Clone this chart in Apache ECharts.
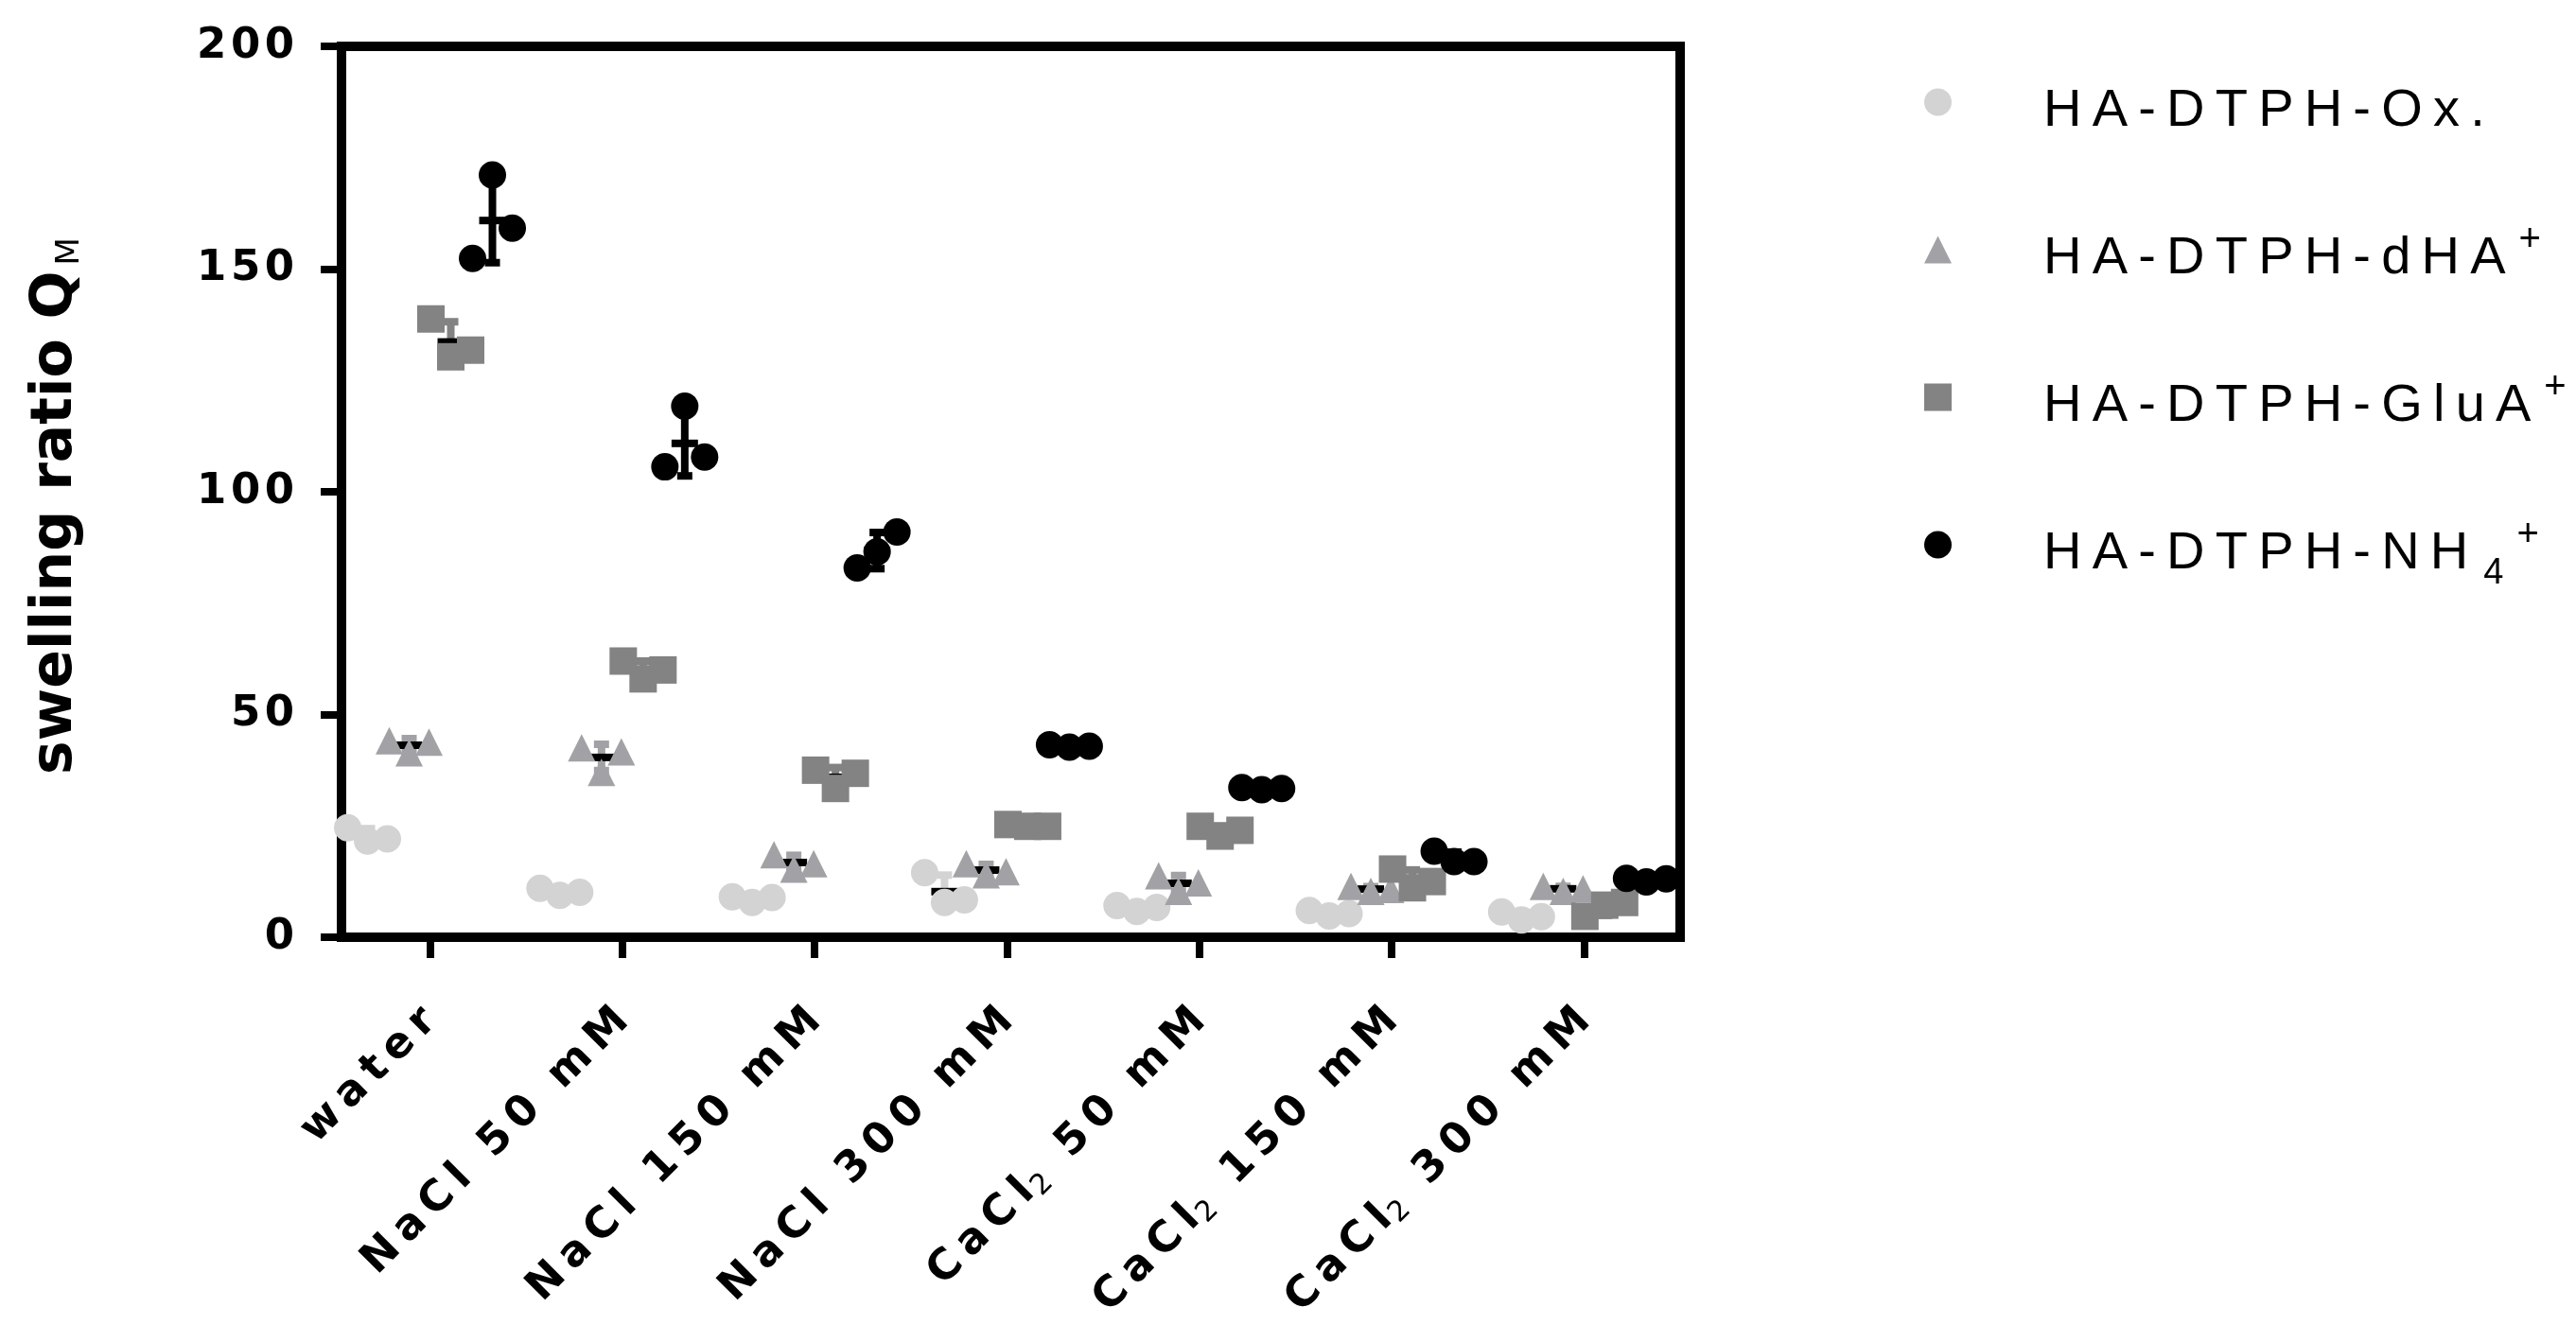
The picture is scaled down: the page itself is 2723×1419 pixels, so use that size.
<!DOCTYPE html>
<html>
<head>
<meta charset="utf-8">
<script src="https://cdn.jsdelivr.net/npm/echarts@6/dist/echarts.min.js"></script>
<style>
html,body{margin:0;padding:0;background:#fff;}
#chart{width:2723px;height:1419px;}
</style>
</head>
<body>
<div id="chart"></div>
<script>
// categories on the x axis
var categories = ['water', 'NaCl 50 mM', 'NaCl 150 mM', 'NaCl 300 mM', 'CaCl2 50 mM', 'CaCl2 150 mM', 'CaCl2 300 mM'];
var seriesNames = ['HA-DTPH-Ox.', 'HA-DTPH-dHA+', 'HA-DTPH-GluA+', 'HA-DTPH-NH4+'];
var yTicks = [0, 50, 100, 150, 200];

// three replicates per condition (left, middle, right)
var ox   = [[24.6, 21.6, 22.1], [11.0, 9.4, 10.1], [9.1, 7.8, 8.9], [14.5, 7.8, 8.4], [7.1, 5.8, 6.7], [6.0, 4.8, 5.3], [5.7, 3.9, 4.6]];
var dha  = [[44.1, 41.4, 43.8], [42.5, 37.0, 41.6], [18.5, 15.3, 16.5], [16.5, 14.0, 14.7], [13.8, 10.3, 12.2], [11.4, 10.3, 10.7], [11.4, 10.3, 10.9]];
var glua = [[138.8, 130.3, 131.8], [62.0, 58.0, 60.0], [37.5, 33.4, 36.8], [25.3, 24.9, 24.9], [24.9, 22.7, 24.0], [15.3, 11.1, 12.5], [4.7, 7.2, 7.8]];
var nh4  = [[152.4, 171.1, 159.2], [105.6, 119.2, 107.8], [82.9, 86.5, 91.0], [43.2, 42.7, 42.9], [33.6, 33.1, 33.4], [19.3, 17.0, 17.0], [13.2, 12.4, 13.1]];

var allSeries = [ox, dha, glua, nh4];
var colors = ['#d3d3d3', '#a2a2a6', '#838383', '#000000'];
var symbols = ['circle', 'triangle', 'rect', 'circle'];
var seriesOff = [-66, -22, 22, 66];   // px, dodge of each series inside a group
var repOff = [-21, 0, 21];            // px, spread of the replicates
var FONT = 'DejaVu Sans';
var LFONT = 'Liberation Sans';

function spaced(s, sep, wordSep) {
	return s.split(' ').map(function(w) { return w.split('').join(sep); }).join(wordSep);
}

function meanSd(arr) {
	var m = arr.reduce(function(a, b) { return a + b; }, 0) / arr.length;
	var v = arr.reduce(function(a, b) { return a + (b - m) * (b - m); }, 0) / (arr.length - 1);
	return [m, Math.sqrt(v)];
}

// error bar (series colour) + mean line (black), drawn under the points
function errRender(off, color) {
	return function(params, api) {
		var i = api.value(0), m = api.value(1), sd = api.value(2);
		var c = api.coord([i, m]);
		var top = api.coord([i, m + sd])[1];
		var bot = api.coord([i, m - sd])[1];
		var x = c[0] + off;
		var lw = 8;
		return {
			type: 'group',
			children: [
				{type: 'line', shape: {x1: x, y1: top, x2: x, y2: bot}, style: {stroke: color, lineWidth: lw}},
				{type: 'line', shape: {x1: x - 8, y1: top, x2: x + 8, y2: top}, style: {stroke: color, lineWidth: lw}},
				{type: 'line', shape: {x1: x - 8, y1: bot, x2: x + 8, y2: bot}, style: {stroke: color, lineWidth: lw}},
				{type: 'line', shape: {x1: x - 14, y1: c[1], x2: x + 14, y2: c[1]}, style: {stroke: '#000', lineWidth: lw}}
			]
		};
	};
}

var series = [];
allSeries.forEach(function(vals, s) {
	series.push({
		name: 'sd' + s,
		type: 'custom',
		z: 1,
		renderItem: errRender(seriesOff[s], colors[s]),
		encode: {x: 0, y: 1},
		data: vals.map(function(g, i) { var ms = meanSd(g); return [i, ms[0], ms[1]]; })
	});
});
allSeries.forEach(function(vals, s) {
	var data = [];
	vals.forEach(function(g, i) {
		g.forEach(function(v, r) {
			data.push({value: [i, v], symbolOffset: [seriesOff[s] + repOff[r], 0]});
		});
	});
	series.push({
		name: seriesNames[s],
		type: 'scatter',
		z: 3,
		symbol: symbols[s],
		symbolSize: 29,
		itemStyle: {color: colors[s], opacity: 1},
		emphasis: {disabled: true},
		data: data
	});
});

var legendRich = {
	t: {fontFamily: LFONT, fontSize: 56, color: '#000', lineHeight: 80},
	sup: {fontFamily: LFONT, fontSize: 40, color: '#000', lineHeight: 20, verticalAlign: 'top', padding: [0, 0, 0, 14]},
	sub: {fontFamily: LFONT, fontSize: 38, color: '#000', lineHeight: 20, verticalAlign: 'bottom', padding: [0, 0, 0, 16]}
};

function legendLabel(name) {
	var ts = '\u2009';
	if (name === 'HA-DTPH-Ox.') return '{t|' + spaced(name, ts, ' ') + '}{sup| }';
	if (name === 'HA-DTPH-NH4+') return '{t|' + spaced('HA-DTPH-NH', ts, ' ') + '}{sub|4}{sup|+}';
	return '{t|' + spaced(name.slice(0, -1), ts, ' ') + '}{sup|+}';
}

function xLabel(v) {
	var name = categories[v];
	var ts = '\u2009';
	if (name.indexOf('CaCl2') === 0) {
		return '{b|' + spaced('CaCl', ts, '  ') + '}{s|2}{b|  ' + spaced(name.slice(6), ts, '  ') + '}';
	}
	return '{b|' + spaced(name, ts, '  ') + '}';
}

// one legend block per row, text rows centred at these heights
var legendRows = [116, 272, 428, 584];
var legends = seriesNames.map(function(n, k) {
	return {
		orient: 'vertical',
		left: 2029,
		top: legendRows[k] - 43,
		itemWidth: 29,
		itemHeight: 29,
		selectedMode: false,
		data: [n],
		formatter: legendLabel,
		textStyle: {fontFamily: LFONT, fontSize: 56, color: '#000', padding: [20, 0, 0, 92], rich: legendRich}
	};
});

var chart = echarts.init(document.getElementById('chart'));
chart.setOption({
	backgroundColor: '#fff',
	animation: false,
	grid: {left: 361, right: 947, top: 49, bottom: 428, show: true, borderColor: '#000', borderWidth: 10, backgroundColor: 'transparent'},
	xAxis: {
		type: 'value',
		min: -0.46,
		max: 6.5,
		splitLine: {show: false},
		axisLine: {onZero: false, lineStyle: {color: '#000', width: 10}},
		axisTick: {show: true, customValues: [0, 1, 2, 3, 4, 5, 6], length: 22, lineStyle: {color: '#000', width: 8}},
		axisLabel: {
			customValues: [0, 1, 2, 3, 4, 5, 6],
			rotate: 45,
			margin: 82,
			formatter: xLabel,
			rich: {
				b: {fontFamily: FONT, fontSize: 45, fontWeight: 'bold', color: '#000'},
				s: {fontFamily: FONT, fontSize: 30, color: '#000', padding: [20, 0, 0, 2]}
			}
		}
	},
	yAxis: {
		type: 'value',
		min: yTicks[0],
		max: yTicks[yTicks.length - 1],
		interval: 50,
		splitLine: {show: false},
		axisLine: {show: true, onZero: false, lineStyle: {color: '#000', width: 10}},
		axisTick: {show: true, length: 22, lineStyle: {color: '#000', width: 8}},
		axisLabel: {
			margin: 50,
			fontFamily: FONT,
			fontSize: 45,
			fontWeight: 'bold',
			color: '#000',
			formatter: function(v) { return String(v).split('').join('\u200a'); }
		},
		name: '{a|swelling ratio Q}{b|M}',
		nameLocation: 'middle',
		nameRotate: 90,
		nameGap: 270,
		nameTextStyle: {
			padding: [0, 30, 0, 0],
			rich: {
				a: {fontFamily: FONT, fontSize: 60, fontWeight: 'bold', color: '#000'},
				b: {fontFamily: FONT, fontSize: 34, color: '#000', padding: [30, 0, 0, 6]}
			}
		}
	},
	legend: legends,
	series: series
});
</script>
</body>
</html>
